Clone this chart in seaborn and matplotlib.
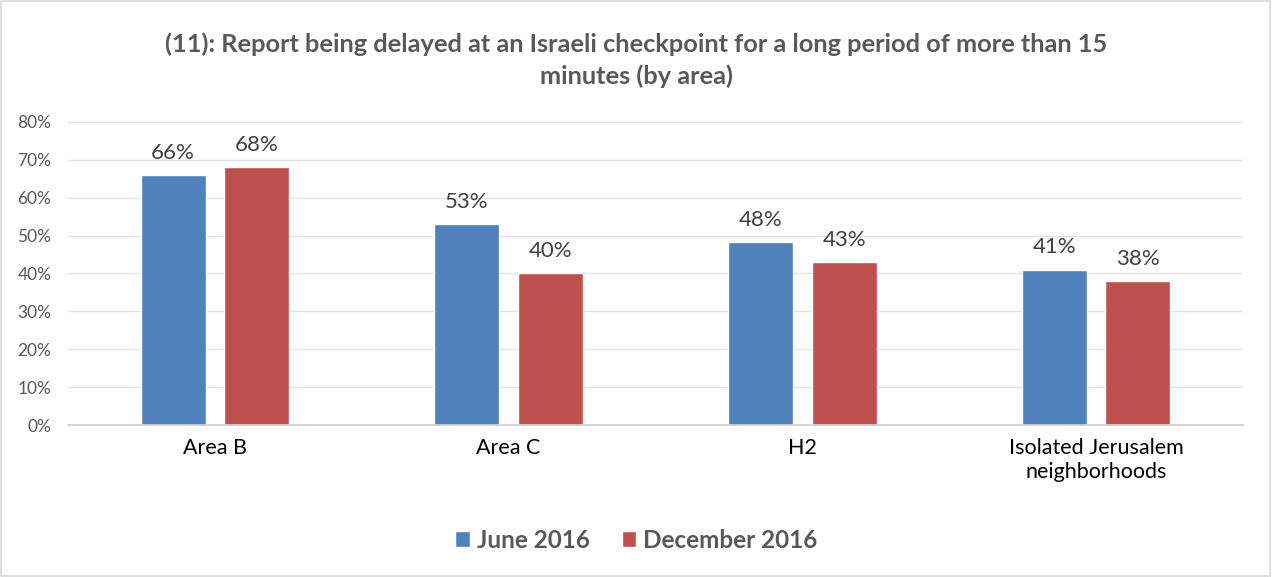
import matplotlib
matplotlib.use("Agg")
import matplotlib.pyplot as plt
import seaborn as sns
import pandas as pd
from matplotlib.patches import Rectangle

categories = ["Area B", "Area C", "H2", "Isolated Jerusalem\nneighborhoods"]
series_names = ["June 2016", "December 2016"]
june_2016 = [0.66, 0.53, 0.483, 0.41]
december_2016 = [0.68, 0.40, 0.43, 0.38]
colors = ["#4F81BD", "#C0504D"]
title = "(11): Report being delayed at an Israeli checkpoint for a long period of more than 15\nminutes (by area)"

df = pd.DataFrame({
    "Area": categories * 2,
    "Period": [series_names[0]] * 4 + [series_names[1]] * 4,
    "Value": june_2016 + december_2016,
})

sns.set_theme(style="white")
plt.rcParams["font.family"] = ["Lato", "DejaVu Sans"]
txt = "#595959"

fig = plt.figure(figsize=(12.73, 5.77), dpi=100)
ax = fig.add_axes([0.0534, 0.2634, 0.9231, 0.5252])

sns.barplot(data=df, x="Area", y="Value", hue="Period", palette=colors,
            width=0.568, gap=0.22, ax=ax, saturation=1, legend=True)

ax.set_ylim(0, 0.8)
ax.set_xlim(-0.5, 3.5)
ax.set_yticks([i / 10 for i in range(9)])
ax.set_yticklabels([f"{i*10}%" for i in range(9)], color=txt, fontsize=12.5)
ax.tick_params(axis="x", labelsize=15.5, length=0, pad=9)
ax.tick_params(axis="y", length=0, pad=12)
for lbl in ax.get_xticklabels():
    lbl.set_color("black")
    lbl.set_linespacing(1.25)
ax.grid(axis="y", color="#E3E3E3", linewidth=1)
ax.set_axisbelow(True)
for s in ["top", "right", "left"]:
    ax.spines[s].set_visible(False)
ax.spines["bottom"].set_color("#D0D0D0")
ax.set_xlabel("")
ax.set_ylabel("")

for cont in ax.containers:
    ax.bar_label(cont, labels=[f"{round(v*100):.0f}%" for v in cont.datavalues],
                 padding=9, fontsize=16, color="#404040")

handles, labels = ax.get_legend_handles_labels()
ax.legend_.remove()
fig.legend(handles, labels, loc="center", bbox_to_anchor=(0.5, 1 - 540 / 577),
           ncol=2, frameon=False, prop={"weight": "bold", "size": 17.5},
           labelcolor=txt, handlelength=0.6, handleheight=0.6, columnspacing=1.3,
           handletextpad=0.3)

fig.text(0.5, 1 - 60 / 577, title, ha="center", va="center", fontsize=18.3,
         fontweight="bold", color=txt, linespacing=1.45)

fig.patches.append(Rectangle((0.001, 0.001), 0.997, 0.997, transform=fig.transFigure,
                             fill=False, edgecolor="#D9D9D9", linewidth=1.2))

fig.savefig("out.png", dpi=100)
